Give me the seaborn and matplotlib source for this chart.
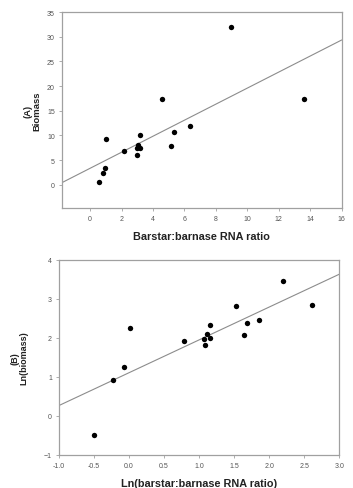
import numpy as np
import pandas as pd
import matplotlib
matplotlib.use("Agg")
import matplotlib.pyplot as plt
import seaborn as sns

# panel A: raw ratio vs biomass
razao = [0.59, 0.80, 0.95, 1.02, 2.18, 2.97, 2.97, 3.03, 3.18, 3.18, 4.58, 5.15, 5.34, 6.33, 8.94, 13.6]
biomassa = [0.6, 2.3, 3.4, 9.3, 6.8, 6.1, 7.4, 8.1, 7.5, 10.0, 17.3, 7.9, 10.6, 12.0, 31.9, 17.4]

# panel B: log values
ln_razao = [-0.50, -0.23, -0.07, 0.02, 0.79, 1.07, 1.08, 1.11, 1.155, 1.16, 1.525, 1.64, 1.68, 1.85, 2.20, 2.61]
ln_biomassa = [-0.50, 0.91, 1.26, 2.25, 1.92, 1.96, 1.83, 2.10, 2.01, 2.32, 2.83, 2.08, 2.37, 2.47, 3.46, 2.84]

ticks_a_x = [0, 2, 4, 6, 8, 10, 12, 14, 16]
ticks_a_y = [0, 5, 10, 15, 20, 25, 30, 35]
ticks_b_x = [-1.0, -0.5, 0.0, 0.5, 1.0, 1.5, 2.0, 2.5, 3.0]
ticks_b_y = [-1, 0, 1, 2, 3, 4]

sns.set_theme(style="white")
plt.rcParams["font.family"] = ["Liberation Sans", "DejaVu Sans"]

dados_a = pd.DataFrame({"razao": razao, "biomassa": biomassa})
dados_b = pd.DataFrame({"ln_razao": ln_razao, "ln_biomassa": ln_biomassa})

fig = plt.figure(figsize=(3.53, 4.89), dpi=100)
ax1 = fig.add_axes([0.175, 0.572, 0.793, 0.401])
ax2 = fig.add_axes([0.167, 0.0675, 0.794, 0.399])

cinza = "#a0a0a0"
pontos = {"s": 15, "color": "black", "alpha": 1, "linewidths": 0, "zorder": 3}
reta = {"color": "#8c8c8c", "lw": 0.8, "zorder": 2}

def estilo(ax):
    for s in ax.spines.values():
        s.set_color(cinza)
        s.set_linewidth(0.9)
    ax.tick_params(axis="both", which="both", direction="out", length=2, width=0.6,
                   color=cinza, labelsize=5, labelcolor="#555555", pad=3,
                   bottom=True, left=True, top=False, right=False)

ax1.set_xlim(-1.8, 16)
sns.regplot(x="razao", y="biomassa", data=dados_a, ax=ax1, ci=None, truncate=False,
            scatter_kws=pontos, line_kws=reta)
ax1.set_ylim(-4.8, 35)
ax1.set_xticks(ticks_a_x)
ax1.set_yticks(ticks_a_y)
estilo(ax1)
ax1.set_xlabel("Barstar:barnase RNA ratio", fontsize=7.8, fontweight="bold", color="#222222")
ax1.set_ylabel("(A)\nBiomass", fontsize=6.8, fontweight="bold", color="#222222", linespacing=1.0)
ax1.xaxis.set_label_coords(0.5, -0.115)
ax1.yaxis.set_label_coords(-0.074, 0.5)

ax2.set_xlim(-1.0, 3.0)
sns.regplot(x="ln_razao", y="ln_biomassa", data=dados_b, ax=ax2, ci=None, truncate=False,
            scatter_kws=pontos, line_kws=reta)
ax2.set_ylim(-1, 4)
ax2.set_xticks(ticks_b_x)
ax2.set_xticklabels([f"{t:.1f}" for t in ticks_b_x])
ax2.set_yticks(ticks_b_y)
estilo(ax2)
ax2.set_xlabel("Ln(barstar:barnase RNA ratio)", fontsize=7.8, fontweight="bold", color="#222222")
ax2.set_ylabel("(B)\nLn(biomass)", fontsize=6.5, fontweight="bold", color="#222222", linespacing=1.0)
ax2.xaxis.set_label_coords(0.5, -0.12)
ax2.yaxis.set_label_coords(-0.11, 0.5)

fig.savefig("out.png", dpi=100, facecolor="white")
